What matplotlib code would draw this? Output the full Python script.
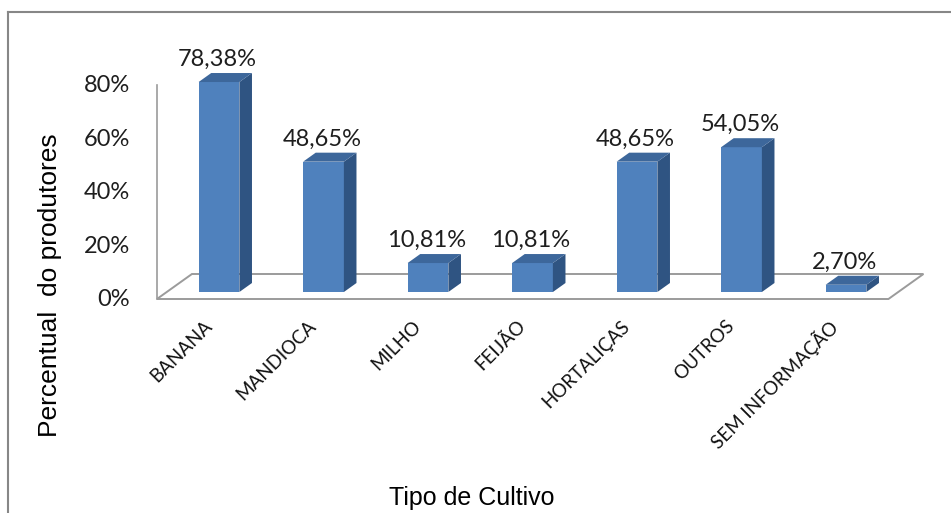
import matplotlib.pyplot as plt
from matplotlib.patches import Polygon
from matplotlib.lines import Line2D

categorias = ['BANANA', 'MANDIOCA', 'MILHO', 'FEIJÃO', 'HORTALIÇAS', 'OUTROS', 'SEM INFORMAÇÃO']
percentuais = [78.38, 48.65, 10.81, 10.81, 48.65, 54.05, 2.70]
ticks_y = [0, 20, 40, 60, 80]

W, H = 951, 513
fig = plt.figure(figsize=(W / 100, H / 100), dpi=100)

# front plane of the columns, in pixels
ax_left, ax_right = 166.75, 898.25
ax_bottom, ax_top = 292.0, 292.0 - 80 * 2.679
ax = fig.add_axes([ax_left / W, 1 - ax_bottom / H,
                   (ax_right - ax_left) / W, (ax_bottom - ax_top) / H])
ax.set_xlim(-0.5, len(categorias) - 0.5)
ax.set_ylim(0, 80)
ax.axis('off')

px_x = (ax_right - ax_left) / len(categorias)   # pixels per category
px_y = (ax_bottom - ax_top) / 80                # pixels per percent


def prof(x, y, d):
    # move a point d pixels back into the 3d depth
    return (x + 1.4 * d / px_x, y + d / px_y)


cinza = '#9b9b9b'
frente, lado, topo = '#4f81bd', '#2f5482', '#3d679b'

# floor and wall edge
piso = [prof(-0.5, 0, -7), prof(6.5, 0, -7), prof(6.5, 0, 18), prof(-0.5, 0, 18)]
ax.add_patch(Polygon(piso, closed=True, fill=False, edgecolor=cinza, lw=1.4,
                     clip_on=False, zorder=1))
x0, y0 = prof(-0.5, 0, -7)
x1, y1 = prof(-0.5, 80, -7)
ax.add_line(Line2D([x0, x1], [y0, y1], color=cinza, lw=1.2, clip_on=False, zorder=1))

# columns
larg = 0.39
xs = list(range(len(categorias)))
ax.bar(xs, percentuais, width=larg, color=frente, zorder=3, clip_on=False)
for x, v in zip(xs, percentuais):
    xr, xl = x + larg / 2, x - larg / 2
    ax.add_patch(Polygon([(xr, 0), (xr, v), prof(xr, v, 9), prof(xr, 0, 9)],
                         closed=True, color=lado, lw=0, clip_on=False, zorder=3))
    ax.add_patch(Polygon([(xl, v), (xr, v), prof(xr, v, 9), prof(xl, v, 9)],
                         closed=True, color=topo, lw=0, clip_on=False, zorder=3))
    rotulo = f'{v:.2f}%'.replace('.', ',')
    ax.text(x - 1.5 / px_x, v + 16 / px_y, rotulo, ha='center', va='baseline',
            fontsize=17, family='Lato', color='#1e1e1e')

# value axis labels
for t in ticks_y:
    ax.text(-0.5 + (-9.8 - 27) / px_x, t - 8 / px_y, f'{t}%', ha='right', va='center',
            fontsize=17, family='Lato', color='#1e1e1e')

# category labels
for x, c in zip(xs, categorias):
    ax.text(x - 4 / px_x, -25 / px_y, c, rotation=45, ha='right', va='top',
            fontsize=13.5, family='Lato', color='#111111')

fig.text(50 / W, 1 - 285 / H, 'Percentual  do produtores', rotation=90,
         ha='center', va='center', fontsize=19, family='Liberation Sans')
fig.text(472 / W, 1 - 498 / H, 'Tipo de Cultivo', ha='center', va='center',
         fontsize=18, family='Liberation Sans')

# chart border
borda = '#878787'
fig.add_artist(Line2D([8 / W, 8 / W], [0, 1 - 12 / H], color=borda, lw=1.5))
fig.add_artist(Line2D([8 / W, 1], [1 - 12 / H, 1 - 12 / H], color=borda, lw=1.5))

fig.savefig('out.png', dpi=100)
